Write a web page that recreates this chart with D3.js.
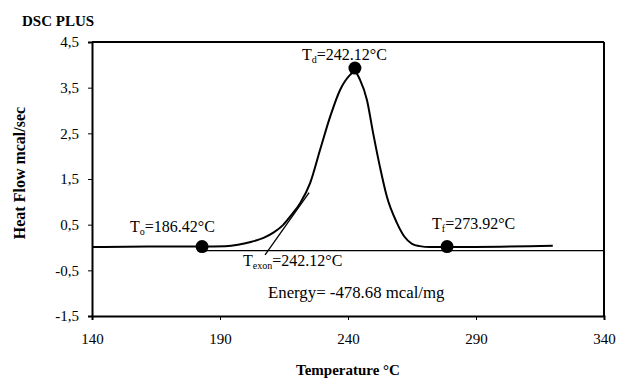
<!DOCTYPE html>
<html lang="en">
<head>
<meta charset="UTF-8">
<title>DSC PLUS</title>
<script src="https://cdn.jsdelivr.net/npm/d3@7"></script>
<style>
    body { margin: 0; background: #fff; }
</style>
</head>
<body>
<div id="chart"></div>
<script>
// temperature (°C) and heat flow (mcal/sec)
const temps = [140, 162, 183, 192, 197, 202, 207, 211, 214.6, 218, 221.3, 225.2, 229.1, 233, 236.9, 240.8, 242.5,
               244.7, 247.4, 249.8, 252.5, 255.2, 259.1, 262, 265, 268, 272, 278.7, 320];
const flows = [0.01, 0.02, 0.02, 0.03, 0.06, 0.12, 0.21, 0.33, 0.49, 0.72, 0.97, 1.41, 2.14, 2.86, 3.45, 3.78, 3.86,
               3.67, 3.23, 2.51, 1.76, 1.11, 0.54, 0.24, 0.08, 0.03, 0.01, 0.01, 0.04];

const baseX = [183, 340];
const baseY = [-0.07, -0.07];
const tangentX = [207.6, 224.8];
const tangentY = [-0.16, 1.2];

const markT = [183, 242.7, 278.7];
const markF = [0.02, 3.93, 0.02];

const xTicks = [140, 190, 240, 290, 340];
const yTicks = [-1.5, -0.5, 0.5, 1.5, 2.5, 3.5, 4.5];

const serif = "'Liberation Serif'";
const w = 617, h = 378;
const m = {left: 92, right: 13, top: 42, bottom: 62};

const svg = d3.select("#chart").append("svg").attr("width", w).attr("height", h);

const x = d3.scaleLinear().domain([140, 340]).range([m.left, w - m.right]);
const y = d3.scaleLinear().domain([-1.5, 4.5]).range([h - m.bottom, m.top]);

const fmt = d => String(d).replace(".", ",");

const xAxis = svg.append("g")
    .attr("transform", "translate(0," + (h - m.bottom) + ")")
    .call(d3.axisBottom(x).tickValues(xTicks).tickSize(4).tickPadding(13));
const yAxis = svg.append("g")
    .attr("transform", "translate(" + m.left + ",0)")
    .call(d3.axisLeft(y).tickValues(yTicks).tickFormat(fmt).tickSize(4).tickPadding(9));

[xAxis, yAxis].forEach(g => {
    g.select(".domain").attr("stroke", "#000").attr("stroke-width", 2);
    g.selectAll(".tick line").attr("stroke", "#000");
    g.selectAll(".tick text").attr("fill", "#000")
        .style("font-family", serif).style("font-size", "15px");
});

// frame top and right
svg.append("line").attr("x1", x(140)).attr("x2", x(340)).attr("y1", y(4.5)).attr("y2", y(4.5))
    .attr("stroke", "#000").attr("stroke-width", 2);
svg.append("line").attr("x1", x(340)).attr("x2", x(340)).attr("y1", y(4.5)).attr("y2", y(-1.5))
    .attr("stroke", "#000").attr("stroke-width", 2);

const line = d3.line().x(d => x(d[0])).y(d => y(d[1]));

svg.append("path")
    .datum(d3.zip(baseX, baseY))
    .attr("d", line)
    .attr("fill", "none").attr("stroke", "#000").attr("stroke-width", 1.3);

svg.append("path")
    .datum(d3.zip(tangentX, tangentY))
    .attr("d", line)
    .attr("fill", "none").attr("stroke", "#000").attr("stroke-width", 1.3);

svg.append("path")
    .datum(d3.zip(temps, flows))
    .attr("d", line.curve(d3.curveMonotoneX))
    .attr("fill", "none").attr("stroke", "#000").attr("stroke-width", 2);

svg.selectAll("circle.mark")
    .data(d3.zip(markT, markF))
    .enter().append("circle")
    .attr("class", "mark")
    .attr("cx", d => x(d[0])).attr("cy", d => y(d[1])).attr("r", 6.5)
    .attr("fill", "#000");

// annotations
function label(px, py, main, sub, rest, size) {
    const t = svg.append("text").attr("x", px).attr("y", py)
        .style("font-family", serif).style("font-size", (size || 16) + "px").attr("fill", "#000");
    t.append("tspan").text(main);
    if (sub) t.append("tspan").attr("dy", 3).style("font-size", "10px").text(sub);
    t.append("tspan").attr("dy", sub ? -3 : 0).text(rest);
}
label(130, 232, "T", "o", "=186.42°C");
label(302, 60, "T", "d", "=242.12°C");
label(243, 266, "T", "exon", "=242.12°C");
label(432, 229, "T", "f", "=273.92°C");
label(268, 298, "Energy= -478.68 mcal/mg", null, "", 16.8);

svg.append("text").attr("x", 22).attr("y", 26).text("DSC PLUS")
    .style("font-family", serif).style("font-size", "15px").style("font-weight", "bold");

svg.append("text").attr("x", x(240)).attr("y", 375).attr("text-anchor", "middle")
    .style("font-family", serif).style("font-size", "15px").style("font-weight", "bold")
    .text("Temperature °C");

svg.append("text")
    .attr("transform", "translate(25," + 173 + ") rotate(-90)")
    .attr("text-anchor", "middle")
    .style("font-family", serif).style("font-size", "16px").style("font-weight", "bold")
    .text("Heat Flow mcal/sec");
</script>
</body>
</html>
